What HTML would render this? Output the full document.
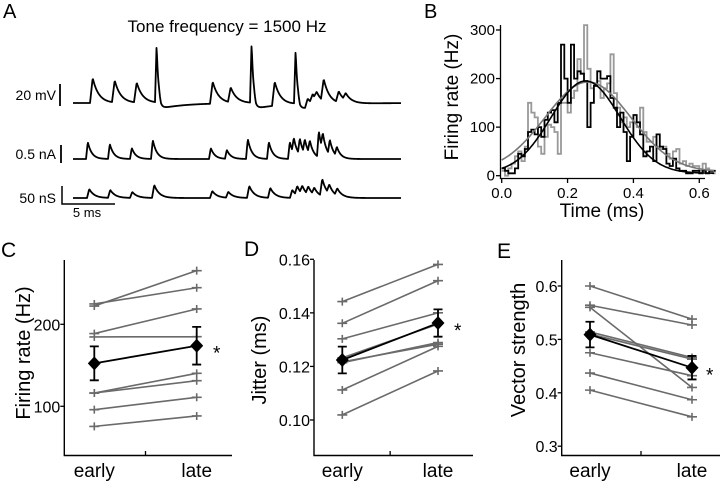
<!DOCTYPE html>
<html><head><meta charset="utf-8"><style>
html,body{margin:0;padding:0;background:#fff;}
svg{display:block;font-family:"Liberation Sans",Arial,sans-serif;}
</style></head><body>
<svg id="fig" width="720" height="481" viewBox="0 0 720 481" xmlns="http://www.w3.org/2000/svg">
<g id="panelA">
<text x="3" y="18" font-size="20">A</text>
<text x="227" y="32" font-size="17" text-anchor="middle">Tone frequency = 1500 Hz</text>
<text x="56" y="100" font-size="14" text-anchor="end">20 mV</text>
<line x1="60" y1="84" x2="60" y2="106" stroke="#000" stroke-width="1.8"/>
<text x="56" y="159" font-size="14" text-anchor="end">0.5 nA</text>
<line x1="61" y1="145" x2="61" y2="163" stroke="#000" stroke-width="1.8"/>
<text x="56" y="203" font-size="14" text-anchor="end">50 nS</text>
<polyline points="62,186 62,204 115,204" fill="none" stroke="#000" stroke-width="1.5"/>
<text x="87" y="217" font-size="13" text-anchor="middle">5 ms</text>
</g>
<g id="panelB">
<text x="424" y="18" font-size="20">B</text>
</g>
<g id="panelC"><text x="1" y="257" font-size="21">C</text></g>
<g id="panelD"><text x="244" y="256" font-size="21">D</text></g>
<g id="panelE"><text x="497" y="258" font-size="21">E</text></g>
</svg>
<script>
const NS='http://www.w3.org/2000/svg';
// ---------- Panel A data ----------
const vmEventsX=[90,112,134,155,210,228,250,272,294,305,310,314,321,336,343];
const vmEventsAmp=[25,22,20,58,22,15,60,24,54,9,9,8,22,11,7];
const vmEventsSpike=[0,0,0,1,0,0,1,0,1,0,0,0,0,0,0];
const curEventsX=[86,108,130,151,209,225,246,267,288,292,298,303,308,317,321,328,335];
const curEventsAmp=[17,15,11,19,11,9,20,17,17,15,16,14,13,26,16,15,9];
const condEventsX=[87,108,130,152,210,226,247,268,290,295,300,306,312,320,327,335];
const condEventsAmp=[9,8,6,13,7,6,12,10,8,9,8,8,7,17,9,7];
// ---------- Panel B data ----------
const histBins=[0,.01,.02,.03,.04,.05,.06,.07,.08,.09,.10,.11,.12,.13,.14,.15,.16,.17,.18,.19,.20,.21,.22,.23,.24,.25,.26,.27,.28,.29,.30,.31,.32,.33,.34,.35,.36,.37,.38,.39,.40,.41,.42,.43,.44,.45,.46,.47,.48,.49,.50,.51,.52,.53,.54,.55,.56,.57,.58,.59,.60,.61,.62,.63,.64];
const histEarly=[15,10,5,5,15,45,40,55,90,95,85,100,80,115,130,135,110,150,270,200,150,270,200,215,210,195,100,150,185,215,200,200,205,160,140,100,130,90,30,80,125,110,85,40,50,60,30,85,60,55,25,20,35,15,10,10,5,5,10,10,5,10,5,10,10];
const histLate=[10,0,15,25,40,50,30,60,150,130,120,60,45,80,105,100,90,45,150,150,130,160,175,240,210,310,220,180,185,195,160,180,190,250,170,140,110,120,100,110,110,100,140,90,70,70,80,60,55,60,45,35,50,55,25,30,20,25,20,20,10,25,15,10,5];
const fitEarly=[190,0.255,0.105,5]; // amplitude, center, sigma, offset
const fitLate=[185,0.262,0.13,8];
const bTicksX=[0,0.2,0.4,0.6];
const bTickLabelsX=['0.0','0.2','0.4','0.6'];
const bTicksY=[0,100,200,300];
// ---------- Panels C/D/E data ----------
const groups=['early','late'];
const rateEarly=[224.8,222.3,188.7,184.6,116.2,116.2,95.9,75.5];
const rateLate=[244.6,265.4,218.7,184.9,140.2,131.2,111,88.2];
const rateMean=[152.4,173.9];
const rateErr=[20.7,23];
const jitEarly=[0.1442,0.1361,0.1303,0.1232,0.1217,0.1214,0.1112,0.1019];
const jitLate=[0.1581,0.1520,0.1400,0.1358,0.1283,0.1289,0.1275,0.1183];
const jitMean=[0.1224,0.1362];
const jitErr=[0.005,0.0051];
const vsEarly=[0.600,0.564,0.560,0.514,0.510,0.475,0.437,0.405];
const vsLate=[0.538,0.527,0.410,0.466,0.463,0.432,0.387,0.355];
const vsMean=[0.509,0.447];
const vsErr=[0.024,0.022];

function mk(tag,attrs,parent){const e=document.createElementNS(NS,tag);for(const k in attrs)e.setAttribute(k,attrs[k]);(parent||document.getElementById('fig')).appendChild(e);return e;}

// ---------- Panel A traces ----------
function trace(parent,name,base,xs,amps,spikes,tau,x0,x1){
  let d='';
  for(let x=x0;x<=x1;x+=0.5){
    let v=0;
    for(let i=0;i<xs.length;i++){
      const t=x-xs[i]; if(t<0)continue;
      const sp=spikes&&spikes[i];
      const tr=sp?1.6:tau*0.45, td=sp?1.8:tau;
      const rise=Math.min(1,t/tr);
      v+=amps[i]*(t<tr?rise:Math.exp(-(t-tr)/td));
      if(sp&&t>4)v-=6*Math.exp(-(t-4)/25)*Math.min(1,(t-4)/2);
    }
    d+=(d?'L':'M')+x.toFixed(1)+','+(base-v).toFixed(2);
  }
  const p=mk('path',{d:d,fill:'none',stroke:'#000','stroke-width':1.8,'stroke-linejoin':'round'},parent);
  
  
}
const gA=document.getElementById('panelA');
trace(gA,'voltage-trace',103,vmEventsX,vmEventsAmp,vmEventsSpike,6,73,401);
trace(gA,'current-trace',159,curEventsX,curEventsAmp,null,4,73,401);
trace(gA,'conductance-trace',198,condEventsX,condEventsAmp,null,5,73,401);

// ---------- Panel B ----------
const gB=document.getElementById('panelB');
const bx=v=>501.7+v*329.3, by=v=>175.7-v*0.4857;
function histPath(vals,color,name){
  let d='';const w=0.01;
  for(let i=0;i<histBins.length;i++){
    const xa=bx(histBins[i]),xb=bx(histBins[i]+w),y=by(vals[i]);
    d+=(i?'L':'M')+xa.toFixed(1)+','+y.toFixed(1)+'L'+xb.toFixed(1)+','+y.toFixed(1);
  }
  const p=mk('path',{d:d,fill:'none',stroke:color,'stroke-width':1.8},gB);
  
  
}
histPath(histLate,'#999','histogram-late');
histPath(histEarly,'#000','histogram-early');
function fit(par,color,name){
  let d='';
  for(let t=0;t<=0.65;t+=0.005){const v=par[3]+par[0]*Math.exp(-Math.pow(t-par[1],2)/(2*par[2]*par[2]));d+=(d?'L':'M')+bx(t).toFixed(1)+','+by(v).toFixed(1);}
  const p=mk('path',{d:d,fill:'none',stroke:color,'stroke-width':1.6},gB);
  
  
}
fit(fitLate,'#777','gaussian-fit-late');
fit(fitEarly,'#000','gaussian-fit-early');
let ax=mk('path',{d:'M500.5,25V178.5H705',fill:'none',stroke:'#000','stroke-width':1.3},gB);


bTicksY.forEach(v=>{
  const l=mk('line',{x1:496,x2:500.5,y1:by(v),y2:by(v),stroke:'#000','stroke-width':1.3},gB);
  
  
  const t=mk('text',{x:495,y:by(v)+5,'font-size':15,'text-anchor':'end'},gB);t.textContent=v;
  
  
});
bTicksX.forEach((v,i)=>{
  const l=mk('line',{x1:bx(v),x2:bx(v),y1:178.5,y2:183,stroke:'#000','stroke-width':1.3},gB);
  
  
  const t=mk('text',{x:bx(v),y:198,'font-size':15,'text-anchor':'middle'},gB);t.textContent=bTickLabelsX[i];
  
  
});
let t=mk('text',{x:602,y:217,'font-size':19,'text-anchor':'middle'},gB);t.textContent='Time (ms)';


t=mk('text',{transform:'translate(458,97) rotate(-90)','font-size':19,'text-anchor':'middle'},gB);t.textContent='Firing rate (Hz)';



// ---------- Paired panels ----------
function paired(g,cfg){
  const sy=v=>cfg.y0+(v-cfg.v0)*cfg.k;
  const xE=cfg.xE,xL=cfg.xL;
  let a=mk('path',{d:`M${cfg.ax},260V455.5H${cfg.axEnd}`,fill:'none',stroke:'#000','stroke-width':1.4},g);
  
  
  let m=mk('line',{x1:(xE+xL)/2,x2:(xE+xL)/2,y1:455.5,y2:451,stroke:'#000','stroke-width':1.3},g);
  
  
  cfg.ticks.forEach((v,i)=>{
    const l=mk('line',{x1:cfg.ax-4,x2:cfg.ax,y1:sy(v),y2:sy(v),stroke:'#000','stroke-width':1.3},g);
    
    
    const t=mk('text',{x:cfg.ax-4,y:sy(v)+6,'font-size':16,'text-anchor':'end'},g);t.textContent=cfg.tickLabels[i];
    
    
  });
  groups.forEach((gname,i)=>{
    const t=mk('text',{x:i?xL:xE,y:477,'font-size':19,'text-anchor':'middle'},g);t.textContent=gname;
    
    
  });
  cfg.early.forEach((v,i)=>{
    const y1=sy(v),y2=sy(cfg.late[i]);
    const l=mk('path',{d:`M${xE},${y1}L${xL},${y2}M${xE-5},${y1}h10M${xE},${y1-4}v8M${xL-5},${y2}h10M${xL},${y2-4}v8`,stroke:'#6a6a6a','stroke-width':1.6,fill:'none'},g);
    
    
  });
  const ym=cfg.mean.map(sy);
  let ml=mk('line',{x1:xE,y1:ym[0],x2:xL,y2:ym[1],stroke:'#000','stroke-width':1.8},g);
  
  
  [xE,xL].forEach((x,i)=>{
    const hi=sy(cfg.mean[i]+cfg.err[i]),lo=sy(cfg.mean[i]-cfg.err[i]);
    const e=mk('path',{d:`M${x},${hi}V${lo}M${x-4.5},${hi}h9M${x-4.5},${lo}h9`,stroke:'#000','stroke-width':1.8,fill:'none'},g);
    
    
    const y=ym[i];
    const d=mk('path',{d:`M${x},${y-7}L${x+6.5},${y}L${x},${y+7}L${x-6.5},${y}Z`,fill:'#000'},g);
    
    
  });
  const s=mk('text',{x:cfg.starX,y:ym[1]+14,'font-size':19},g);s.textContent='*';
  
  
  const tt=mk('text',{transform:`translate(${cfg.titleX},${cfg.titleY}) rotate(-90)`,'font-size':20,'text-anchor':'middle'},g);tt.textContent=cfg.title;
  
  
}
paired(document.getElementById('panelC'),{ax:64.3,axEnd:232,xE:94.3,xL:196.7,y0:324.3,v0:200,k:-0.82,ticks:[100,200],tickLabels:['100','200'],early:rateEarly,late:rateLate,mean:rateMean,err:rateErr,title:'Firing rate (Hz)',titleX:30,titleY:353,starX:213});
paired(document.getElementById('panelD'),{ax:314,axEnd:473,xE:342.3,xL:438,y0:259.3,v0:0.16,k:-2678,ticks:[0.10,0.12,0.14,0.16],tickLabels:['0.10','0.12','0.14','0.16'],early:jitEarly,late:jitLate,mean:jitMean,err:jitErr,title:'Jitter (ms)',titleX:266,titleY:360,starX:454});
paired(document.getElementById('panelE'),{ax:561.7,axEnd:720,xE:590,xL:692,y0:286,v0:0.6,k:-534,ticks:[0.3,0.4,0.5,0.6],tickLabels:['0.3','0.4','0.5','0.6'],early:vsEarly,late:vsLate,mean:vsMean,err:vsErr,title:'Vector strength',titleX:525,titleY:350,starX:706});
</script>
</body></html>
